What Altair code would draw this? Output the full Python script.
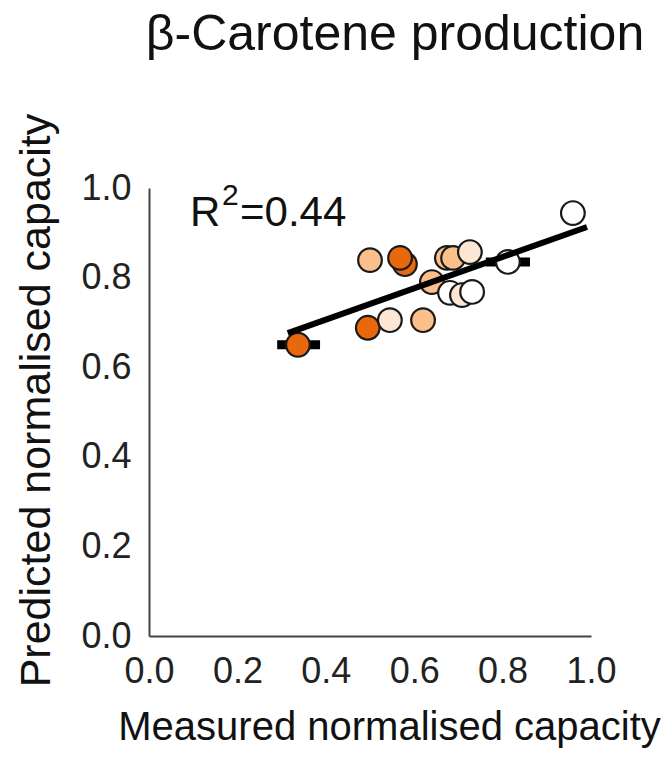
import altair as alt
import pandas as pd

# Measured (x) and predicted (y) normalised capacities, with group shading
measured = [0.337, 0.495, 0.545, 0.620, 0.500, 0.579, 0.568, 0.640, 0.674, 0.688, 0.726, 0.681, 0.708, 0.731, 0.812, 0.959]
predicted = [0.650, 0.688, 0.705, 0.705, 0.839, 0.830, 0.844, 0.790, 0.844, 0.844, 0.857, 0.766, 0.761, 0.768, 0.835, 0.944]
group = ["dark", "dark", "pale", "light", "light", "dark", "dark", "light", "light", "light", "pale", "white", "pale", "white", "white", "white"]

# Horizontal error bars (x range) for two points
err_lo = [0.290, 0.762]
err_hi = [0.387, 0.862]
err_y = [0.650, 0.835]

# Fitted regression line endpoints
fit_x = [0.314, 0.991]
fit_y = [0.676, 0.913]

group_domain = ["dark", "light", "pale", "white"]
group_colors = ["#e8680c", "#fbbf8c", "#fde6d3", "#ffffff"]

FONT = "Liberation Sans"

pts = pd.DataFrame({"x": measured, "y": predicted, "g": group})
errs = pd.DataFrame({"lo": err_lo, "hi": err_hi, "y": err_y})
fit = pd.DataFrame({"x": fit_x, "y": fit_y})

xscale = alt.Scale(domain=[0, 1], nice=False)
yscale = alt.Scale(domain=[0, 1], nice=False)

xaxis = alt.Axis(values=[0, 0.2, 0.4, 0.6, 0.8, 1.0], format=".1f",
                 title="Measured normalised capacity", titleX=240,
                 labelFlush=False, labelOverlap=False)
yaxis = alt.Axis(values=[0, 0.2, 0.4, 0.6, 0.8, 1.0], format=".1f",
                 title="Predicted normalised capacity", titleY=212, titleFontSize=43,
                 labelFlush=False, labelOverlap=False)

base_err = alt.Chart(errs).mark_rule(color="black", strokeWidth=9, strokeCap="butt").encode(
    x=alt.X("lo:Q", scale=xscale, axis=xaxis),
    x2="hi:Q",
    y=alt.Y("y:Q", scale=yscale, axis=yaxis),
)

points = alt.Chart(pts).mark_circle(size=560, opacity=1, stroke="#1a1a1a", strokeWidth=2.2).encode(
    x=alt.X("x:Q", scale=xscale),
    y=alt.Y("y:Q", scale=yscale),
    color=alt.Color("g:N", scale=alt.Scale(domain=group_domain, range=group_colors), legend=None),
)

line = alt.Chart(fit).mark_line(color="black", strokeWidth=6).encode(
    x=alt.X("x:Q", scale=xscale),
    y=alt.Y("y:Q", scale=yscale),
)

ann_main = pd.DataFrame({"x": [0.093, 0.206], "y": [0.915, 0.915], "t": ["R", "=0.44"]})
ann_sup = pd.DataFrame({"x": [0.165], "y": [0.962], "t": ["2"]})

txt_main = alt.Chart(ann_main).mark_text(align="left", baseline="alphabetic", fontSize=42, font=FONT, color="#111").encode(
    x=alt.X("x:Q", scale=xscale), y=alt.Y("y:Q", scale=yscale), text="t:N"
)
txt_sup = alt.Chart(ann_sup).mark_text(align="left", baseline="alphabetic", fontSize=30, font=FONT, color="#111").encode(
    x=alt.X("x:Q", scale=xscale), y=alt.Y("y:Q", scale=yscale), text="t:N"
)

chart = alt.layer(base_err, points, line, txt_main, txt_sup).properties(
    width=442,
    height=448,
    title=alt.TitleParams("β-Carotene production", font=FONT, fontSize=50, fontWeight="normal",
                          color="#111", offset=53, anchor="middle", dx=25),
    autosize=alt.AutoSizeParams(type="none"),
    padding={"left": 141, "top": 180, "right": 73, "bottom": 117},
).configure_view(stroke=None).configure_axis(
    grid=False, ticks=False, domainColor="#444", domainWidth=2,
    labelFont=FONT, labelFontSize=36, labelColor="#222", labelPadding=18,
    titleFont=FONT, titleFontSize=40, titleFontWeight="normal", titleColor="#111",
).configure_axisX(titlePadding=18).configure_axisY(titlePadding=22)

chart.save("out.html", embed_options={"renderer": "svg", "actions": False})
